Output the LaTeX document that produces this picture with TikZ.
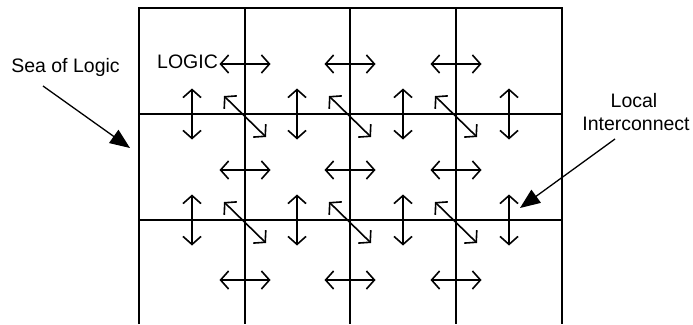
\documentclass[tikz,border=0pt]{standalone}
\usepackage{fontspec}
\setmainfont{Liberation Sans}
\usetikzlibrary{arrows.meta}

\tikzset{
    gridline/.style={line width=1.7pt},
    linkarrow/.style={line width=1.6pt, {Straight Barb[length=8pt,width=18pt]}-{Straight Barb[length=8pt,width=18pt]}},
    callout/.style={line width=1.3pt, -{Triangle[length=20pt,width=16pt]}},
    label/.style={font=\fontsize{19.5}{23}\selectfont, inner sep=0pt, anchor=base}
}

\begin{document}
\begin{tikzpicture}[x=1pt, y=-1pt]
    \useasboundingbox (0,0) rectangle (693,324);

    % grid of logic cells
    \begin{scope}
        \draw[gridline] (139,324) -- (139,8) -- (562,8) -- (562,324);
        \foreach \x in {245,350,456} {
            \draw[gridline] (\x,8) -- (\x,324);
        }
        \foreach \y in {114,220} {
            \draw[gridline] (139,\y) -- (562,\y);
        }
    \end{scope}

    % local links
    \begin{scope}
        \foreach \x in {245,350,456} {
            \foreach \y in {64,170,280} {
                \draw[linkarrow] (\x-25.5,\y) -- (\x+25.5,\y);
            }
            \foreach \y in {114,220} {
                \draw[linkarrow] (\x-21,\y-18) -- (\x+21,\y+23);
            }
        }
        \foreach \x in {192,297,403,509} {
            \foreach \y in {114,220} {
                \draw[linkarrow] (\x,\y-25.5) -- (\x,\y+25.5);
            }
        }
    \end{scope}

    % labels
    \node[label] (logic) at (187.5,68) {LOGIC};
    \node[label] (sea) at (65.5,72) {Sea of Logic};
    \node[label] (local) at (634,107) {Local};
    \node[label] (inter) at (636,130) {Interconnect};

    % callouts
    \coordinate (seaTail) at (43,86);
    \coordinate (seaTip) at (130,148);
    \coordinate (interTail) at (615,139);
    \coordinate (interTip) at (520,208);
    \draw[callout] (seaTail) -- (seaTip);
    \draw[callout] (interTail) -- (interTip);
\end{tikzpicture}
\end{document}
